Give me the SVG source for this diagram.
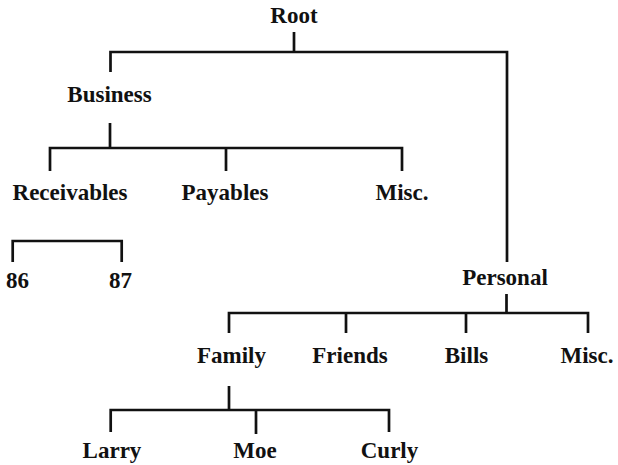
<svg xmlns="http://www.w3.org/2000/svg" width="618" height="465" viewBox="0 0 618 465">
<style>
text{font-family:"Liberation Serif","Times New Roman",serif;font-weight:bold;font-size:23px;fill:#111;text-anchor:middle}
.c{fill:none;stroke:#111;stroke-width:2.7;stroke-linecap:butt;stroke-linejoin:miter}
</style>
<rect width="618" height="465" fill="#fff"/>
<g id="connectors">
<path class="c" d="M294 32V52M110.5 72V52H507V262"/>
<path class="c" d="M110 123V148M50 171V148H402V171M226 148V171"/>
<path class="c" d="M12.7 262V241H121.7V262"/>
<path class="c" d="M506.5 294V313M229 333V313H588V333M346 313V333M466 313V333"/>
<path class="c" d="M229 386V410M110.7 432V410H389V432M256 410V434"/>
</g>
<g id="root"><text x="294" y="23">Root</text></g>
<g id="business"><text x="109.5" y="102">Business</text></g>
<g id="receivables"><text x="70" y="200">Receivables</text></g>
<g id="payables"><text x="225" y="200">Payables</text></g>
<g id="business-misc"><text x="402" y="200">Misc.</text></g>
<g id="n86"><text x="17.5" y="288">86</text></g>
<g id="n87"><text x="120.5" y="288">87</text></g>
<g id="personal"><text x="505" y="285">Personal</text></g>
<g id="family"><text x="231.5" y="363">Family</text></g>
<g id="friends"><text x="350" y="363">Friends</text></g>
<g id="bills"><text x="466.5" y="363">Bills</text></g>
<g id="personal-misc"><text x="587" y="363">Misc.</text></g>
<g id="larry"><text x="112" y="458">Larry</text></g>
<g id="moe"><text x="255" y="458">Moe</text></g>
<g id="curly"><text x="389.5" y="458">Curly</text></g>
</svg>
